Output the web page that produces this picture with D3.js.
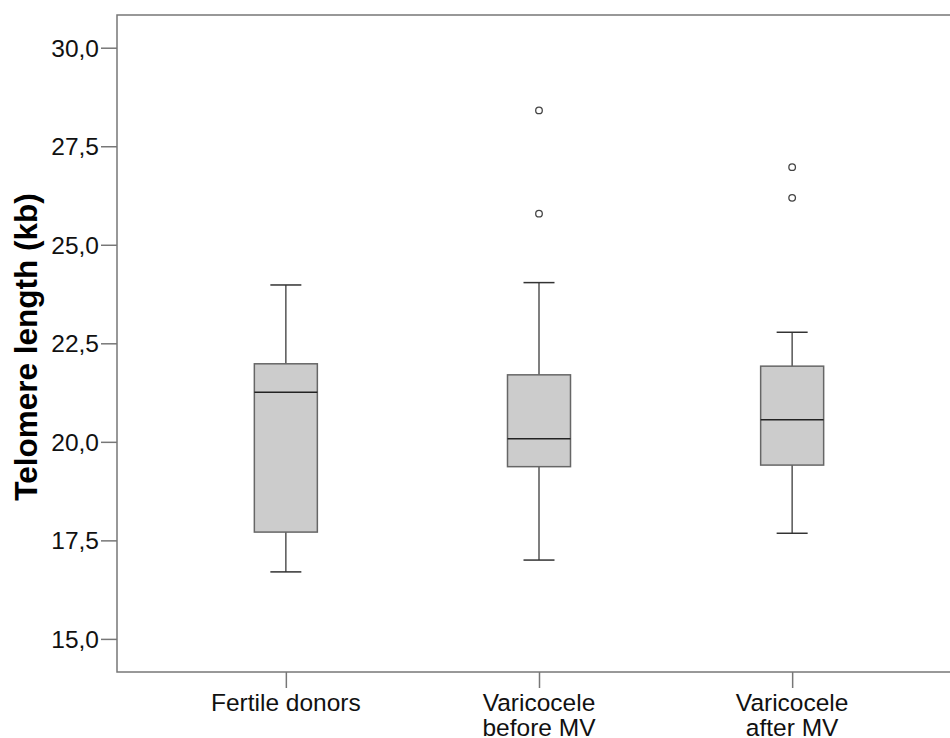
<!DOCTYPE html>
<html>
<head>
<meta charset="utf-8">
<script src="https://cdn.jsdelivr.net/npm/d3@7"></script>
<style>
  body { margin: 0; background: #fff; }
  svg { display: block; font-family: "Liberation Sans", Arial, sans-serif; }
</style>
</head>
<body>
<svg id="chart" width="950" height="738"></svg>
<script>
// groups and label lines
const groups = ["Fertile donors", "Varicocele before MV", "Varicocele after MV"];
const groupLabels = [["Fertile donors"], ["Varicocele", "before MV"], ["Varicocele", "after MV"]];

// box statistics (kb)
const whiskerLow = [16.70, 17.00, 17.68];
const q1 = [17.71, 19.37, 19.41];
const median = [21.26, 20.08, 20.56];
const q3 = [21.98, 21.70, 21.92];
const whiskerHigh = [23.98, 24.04, 22.78];
const outliers = [[], [28.41, 25.79], [26.97, 26.19]];

const yTicks = [15, 17.5, 20, 22.5, 25, 27.5, 30];

const svg = d3.select("#chart");
const plot = { left: 117, right: 961, top: 15, bottom: 672 };

const x = d3.scalePoint().domain(groups).range([plot.left, plot.right]).padding(0.667);
const y = d3.scaleLinear().domain([14.16, 30.83]).range([plot.bottom, plot.top]);

const fmt = d => d3.format(".1f")(d).replace(".", ",");

// frame
svg.append("rect")
  .attr("x", plot.left).attr("y", plot.top)
  .attr("width", plot.right - plot.left).attr("height", plot.bottom - plot.top)
  .attr("fill", "none").attr("stroke", "#777").attr("stroke-width", 1.5);

// y axis
const yAxis = svg.append("g")
  .attr("transform", `translate(${plot.left},0)`)
  .call(d3.axisLeft(y).tickValues(yTicks).tickFormat(fmt).tickSize(16).tickPadding(2));
yAxis.select(".domain").remove();
yAxis.selectAll(".tick line").attr("stroke", "#777").attr("stroke-width", 1.5);
yAxis.selectAll(".tick text").attr("fill", "#111").style("font-size", "24.5px").attr("dy", "0.35em");

// x axis
const xAxis = svg.append("g")
  .attr("transform", `translate(0,${plot.bottom})`)
  .call(d3.axisBottom(x).tickSize(16).tickFormat(""));
xAxis.select(".domain").remove();
xAxis.selectAll(".tick line").attr("stroke", "#777").attr("stroke-width", 1.5);

groups.forEach((g, i) => {
  const t = svg.append("text")
    .attr("x", x(g)).attr("y", 711)
    .attr("text-anchor", "middle")
    .attr("fill", "#111")
    .style("font-size", "24.5px");
  groupLabels[i].forEach((line, j) => {
    t.append("tspan").attr("x", x(g)).attr("dy", j === 0 ? 0 : 25).text(line);
  });
});

// y title
svg.append("text")
  .attr("transform", "translate(37,347) rotate(-90)")
  .attr("text-anchor", "middle")
  .attr("fill", "#000")
  .style("font-size", "31.5px").style("font-weight", "bold")
  .text("Telomere length (kb)");

// boxes
const boxW = 63, capW = 31;
const boxes = svg.append("g");
groups.forEach((g, i) => {
  const cx = x(g);
  const b = boxes.append("g");
  b.append("line")
    .attr("x1", cx).attr("x2", cx)
    .attr("y1", y(whiskerHigh[i])).attr("y2", y(q3[i]))
    .attr("stroke", "#555").attr("stroke-width", 1.5);
  b.append("line")
    .attr("x1", cx).attr("x2", cx)
    .attr("y1", y(q1[i])).attr("y2", y(whiskerLow[i]))
    .attr("stroke", "#555").attr("stroke-width", 1.5);
  [whiskerHigh[i], whiskerLow[i]].forEach(v => {
    b.append("line")
      .attr("x1", cx - capW / 2).attr("x2", cx + capW / 2)
      .attr("y1", y(v)).attr("y2", y(v))
      .attr("stroke", "#333").attr("stroke-width", 1.5);
  });
  b.append("rect")
    .attr("x", cx - boxW / 2).attr("width", boxW)
    .attr("y", y(q3[i])).attr("height", y(q1[i]) - y(q3[i]))
    .attr("fill", "#cccccc").attr("stroke", "#666").attr("stroke-width", 1.5);
  b.append("line")
    .attr("x1", cx - boxW / 2).attr("x2", cx + boxW / 2)
    .attr("y1", y(median[i])).attr("y2", y(median[i]))
    .attr("stroke", "#222").attr("stroke-width", 1.5);
  b.selectAll("circle")
    .data(outliers[i])
    .enter().append("circle")
    .attr("cx", cx).attr("cy", d => y(d)).attr("r", 3.3)
    .attr("fill", "#fff").attr("stroke", "#444").attr("stroke-width", 1.3);
});
</script>
</body>
</html>
